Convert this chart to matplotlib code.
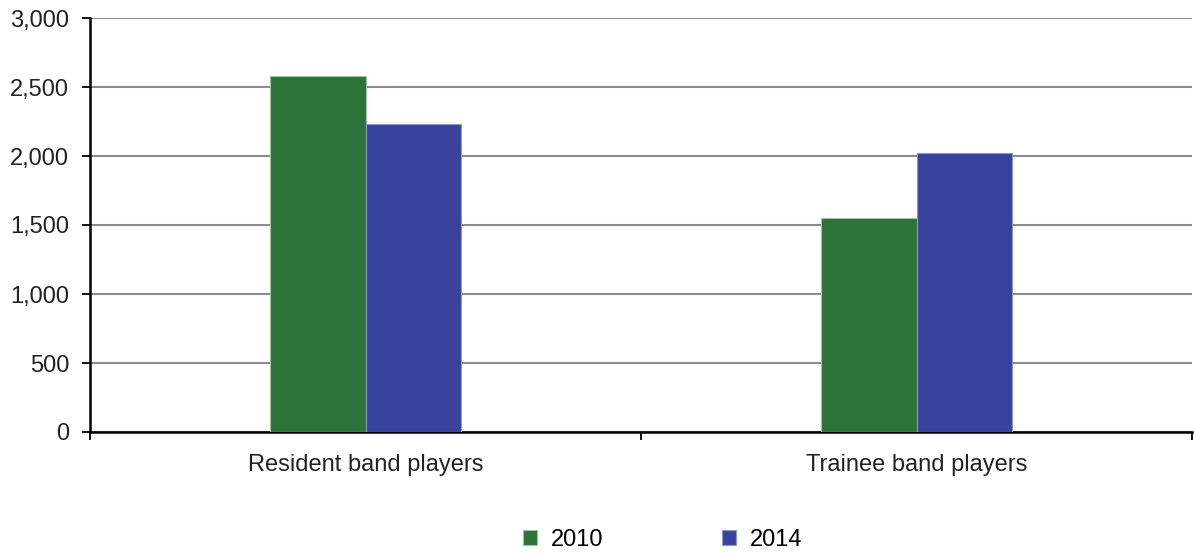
import matplotlib
matplotlib.use("Agg")
import matplotlib.pyplot as plt
import numpy as np

plt.rcParams['font.family'] = ['Liberation Sans', 'DejaVu Sans']

categories = ["Resident band players", "Trainee band players"]
years = ["2010", "2014"]
values_2010 = [2580, 1550]
values_2014 = [2232, 2022]
colors = ["#2e743a", "#38449c"]
edges = ["#9cc49f", "#8d96cf"]

fig = plt.figure(figsize=(11.94, 5.54), dpi=100)
ax = fig.add_axes([90 / 1194, 1 - 432 / 554, 1102 / 1194, 414 / 554])

x = np.arange(len(categories))
w = 0.1725
b1 = ax.bar(x - w / 2, values_2010, w, color=colors[0], edgecolor=edges[0], linewidth=0.8, label=years[0], zorder=3)
b2 = ax.bar(x + w / 2, values_2014, w, color=colors[1], edgecolor=edges[1], linewidth=0.8, label=years[1], zorder=3)

ax.set_xlim(-0.5, 1.5)
ax.set_ylim(0, 3000)
ax.set_yticks(np.arange(0, 3001, 500))
ax.set_yticklabels([f"{v:,}" for v in range(0, 3001, 500)])
ax.yaxis.grid(True, color="#8c8c8c", linewidth=1.5, zorder=0)

# category boundaries get the tick marks, names sit on minor ticks
ax.set_xticks([-0.5, 0.5, 1.5], minor=False)
ax.set_xticklabels([])
ax.set_xticks(x, minor=True)
ax.set_xticklabels(categories, minor=True)
ax.tick_params(axis='x', which='minor', length=0, pad=16, labelsize=17, colors='#222222')
ax.tick_params(axis='x', which='major', length=6, width=1.3, direction='out', color='black')
ax.tick_params(axis='y', length=6, width=1.3, direction='out', pad=9, labelsize=17, labelcolor='#222222')

for s in ['top', 'right']:
    ax.spines[s].set_visible(False)
ax.spines['left'].set_linewidth(1.8)
ax.spines['bottom'].set_linewidth(1.8)

fig.legend(handles=[b1, b2], labels=years, loc='center', bbox_to_anchor=(0.555, 1 - 540 / 554),
           ncol=2, frameon=False, fontsize=17, handlelength=0.6, handleheight=0.6,
           columnspacing=5.0, handletextpad=0.6)

fig.savefig("out.png", dpi=100)
